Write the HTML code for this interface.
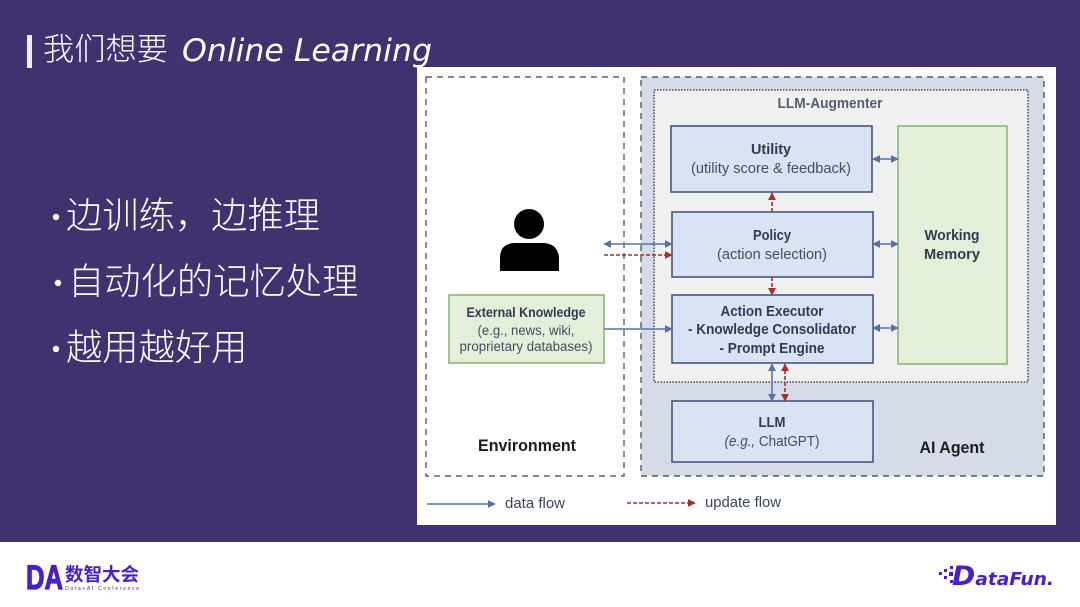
<!DOCTYPE html>
<html><head><meta charset="utf-8"><style>
html,body{margin:0;padding:0;width:1080px;height:607px;overflow:hidden;background:#fff}
svg{display:block}
.b{font-family:"Liberation Sans",sans-serif;text-anchor:middle;fill:#444d5e;font-size:14.5px}
.s{font-weight:bold;fill:#2f3b52}
.c{font-family:"Liberation Sans","Noto Sans CJK SC",sans-serif;fill:#fff;font-weight:300}
</style></head><body>
<svg width="1080" height="607" viewBox="0 0 1080 607" xmlns="http://www.w3.org/2000/svg">
<defs>
<marker id="bl" viewBox="0 0 10 10" refX="9" refY="5" markerWidth="8" markerHeight="8" markerUnits="userSpaceOnUse" orient="auto-start-reverse"><path d="M0 0L10 5L0 10Z" fill="#5673a6"/></marker>
<marker id="rd" viewBox="0 0 10 10" refX="9" refY="5" markerWidth="8" markerHeight="8" markerUnits="userSpaceOnUse" orient="auto-start-reverse"><path d="M0 0L10 5L0 10Z" fill="#a3302c"/></marker>
</defs>
<rect width="1080" height="542" fill="#41326f"/>
<rect x="0" y="542" width="1080" height="65" fill="#fff"/>
<rect x="27" y="35" width="5" height="33" fill="#f0ecf8"/>
<text x="43" y="60" class="c" font-size="31" textLength="125" lengthAdjust="spacingAndGlyphs">我们想要</text>
<text x="182" y="61" font-family="'DejaVu Sans',sans-serif" font-style="italic" font-size="31" fill="#fff" textLength="250" lengthAdjust="spacingAndGlyphs">Online Learning</text>
<circle cx="56" cy="217" r="3.2" fill="#fff"/>
<circle cx="58" cy="283" r="3.2" fill="#fff"/>
<circle cx="56" cy="349" r="3.2" fill="#fff"/>
<text x="66" y="228" class="c" font-size="36.3">边训练，边推理</text>
<text x="68" y="294" class="c" font-size="36.3">自动化的记忆处理</text>
<text x="66" y="360" class="c" font-size="36.3">越用越好用</text>

<rect x="417" y="67" width="639" height="458" fill="#fff"/>
<rect x="426" y="77" width="198" height="399" fill="#fff" stroke="#5a6070" stroke-width="1.4" stroke-dasharray="6 5"/>
<rect x="641" y="77" width="403" height="399" fill="#d5dce8" stroke="#4e5a70" stroke-width="1.4" stroke-dasharray="6 5"/>
<rect x="654" y="90" width="374" height="292" fill="#f0f0f0" stroke="#444" stroke-width="1.5" stroke-dasharray="1.5 1.5"/>
<text x="830" y="108" class="b s" style="fill:#555e6e" textLength="105" lengthAdjust="spacingAndGlyphs">LLM-Augmenter</text>

<g fill="#d9e3f3" stroke="#44577f" stroke-width="1.6">
<rect x="671" y="126" width="201" height="66"/>
<rect x="672" y="212" width="201" height="65"/>
<rect x="672" y="295" width="201" height="68"/>
<rect x="672" y="401" width="201" height="61"/>
</g>
<rect x="898" y="126" width="109" height="238" fill="#e3efd9" stroke="#8cb678" stroke-width="1.6"/>
<rect x="449" y="295" width="155" height="68" fill="#e3efd9" stroke="#8cb678" stroke-width="1.6"/>

<text x="771" y="154" class="b s" textLength="40" lengthAdjust="spacingAndGlyphs">Utility</text>
<text x="771" y="173" class="b" textLength="160" lengthAdjust="spacingAndGlyphs">(utility score &amp; feedback)</text>
<text x="772" y="240" class="b s" textLength="38" lengthAdjust="spacingAndGlyphs">Policy</text>
<text x="772" y="259" class="b" textLength="110" lengthAdjust="spacingAndGlyphs">(action selection)</text>
<text x="772" y="316" class="b s" textLength="103" lengthAdjust="spacingAndGlyphs">Action Executor</text>
<text x="772" y="334" class="b s" textLength="168" lengthAdjust="spacingAndGlyphs">- Knowledge Consolidator</text>
<text x="772" y="353" class="b s" textLength="105" lengthAdjust="spacingAndGlyphs">- Prompt Engine</text>
<text x="772" y="427" class="b s" textLength="27" lengthAdjust="spacingAndGlyphs">LLM</text>
<text x="772" y="446" class="b" textLength="95" lengthAdjust="spacingAndGlyphs"><tspan font-style="italic">(e.g.,</tspan> ChatGPT)</text>
<text x="952" y="240" class="b s" textLength="55" lengthAdjust="spacingAndGlyphs">Working</text>
<text x="952" y="259" class="b s" textLength="56" lengthAdjust="spacingAndGlyphs">Memory</text>
<text x="526" y="317" class="b s" style="font-size:13.5px" textLength="119" lengthAdjust="spacingAndGlyphs">External Knowledge</text>
<text x="526" y="335" class="b" style="font-size:13.5px" textLength="97" lengthAdjust="spacingAndGlyphs">(e.g., news, wiki,</text>
<text x="526" y="351" class="b" style="font-size:13.5px" textLength="133" lengthAdjust="spacingAndGlyphs">proprietary databases)</text>
<text x="527" y="451" class="b s" style="fill:#1c1c1c;font-size:17px" textLength="98" lengthAdjust="spacingAndGlyphs">Environment</text>
<text x="952" y="453" class="b s" style="fill:#1c1c1c;font-size:17px" textLength="65" lengthAdjust="spacingAndGlyphs">AI Agent</text>

<g fill="#000">
<circle cx="529" cy="224" r="15"/>
<path d="M500 271V258Q500 244 514 243H544Q558 244 559 258V271Z"/>
</g>

<g fill="none" stroke="#5673a6" stroke-width="1.6">
<line x1="604" y1="244" x2="672" y2="244" marker-start="url(#bl)" marker-end="url(#bl)"/>
<line x1="604" y1="329" x2="672" y2="329" marker-end="url(#bl)"/>
<line x1="873" y1="159" x2="898" y2="159" marker-start="url(#bl)" marker-end="url(#bl)"/>
<line x1="873" y1="244" x2="898" y2="244" marker-start="url(#bl)" marker-end="url(#bl)"/>
<line x1="873" y1="328" x2="898" y2="328" marker-start="url(#bl)" marker-end="url(#bl)"/>
<line x1="772" y1="364" x2="772" y2="401" marker-start="url(#bl)" marker-end="url(#bl)"/>
<line x1="427" y1="504" x2="495" y2="504" marker-end="url(#bl)"/>
</g>
<g fill="none" stroke="#a3302c" stroke-width="1.6" stroke-dasharray="4 2">
<line x1="604" y1="255" x2="672" y2="255" marker-end="url(#rd)"/>
<line x1="772" y1="212" x2="772" y2="193" marker-end="url(#rd)"/>
<line x1="772" y1="277" x2="772" y2="295" marker-end="url(#rd)"/>
<line x1="785" y1="364" x2="785" y2="401" marker-start="url(#rd)" marker-end="url(#rd)"/>
<line x1="627" y1="503" x2="695" y2="503" marker-end="url(#rd)"/>
</g>
<text x="505" y="508" font-family="'Liberation Sans',sans-serif" font-size="15" fill="#3d4656" textLength="60" lengthAdjust="spacingAndGlyphs">data flow</text>
<text x="705" y="507" font-family="'Liberation Sans',sans-serif" font-size="15" fill="#3d4656" textLength="76" lengthAdjust="spacingAndGlyphs">update flow</text>

<text x="26" y="589" font-family="'Liberation Sans',sans-serif" font-weight="bold" font-size="34" fill="#4a1fc8" stroke="#4a1fc8" stroke-width="1.2" textLength="37" lengthAdjust="spacingAndGlyphs">DA</text>
<text x="65" y="581" font-family="'Liberation Sans','Noto Sans CJK SC',sans-serif" font-weight="bold" font-size="18.5" fill="#4a1fc8">数智大会</text>
<text x="65" y="590" font-family="'Liberation Sans',sans-serif" font-size="5" fill="#4a1fc8" textLength="74">Data+AI Conference</text>

<g fill="#4a1fc8">
<rect x="939" y="572" width="3" height="3"/><rect x="944" y="569" width="3" height="3"/><rect x="944" y="576" width="3" height="3"/><rect x="949" y="572" width="4" height="4"/><rect x="950" y="566" width="3" height="3"/><rect x="950" y="580" width="3" height="3"/>
</g>
<text x="952" y="585" font-family="'DejaVu Sans',sans-serif" font-weight="bold" font-style="italic" font-size="18" fill="#4a1fc8" textLength="102" lengthAdjust="spacingAndGlyphs"><tspan font-size="27">D</tspan>ataFun.</text>
</svg>
</body></html>
